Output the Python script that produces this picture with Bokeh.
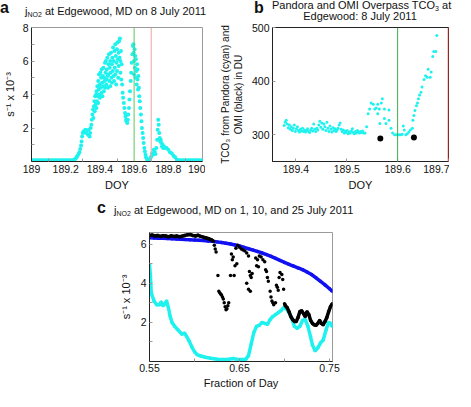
from bokeh.plotting import figure
from bokeh.layouts import column, row
from bokeh.models import Span, FixedTicker, Range1d, Spacer, Div
from bokeh.embed import file_html
from bokeh.resources import INLINE

FONT = "Liberation Sans"
CYAN = "#1FF2EE"
BLUE = "#1010F0"

# ---------------- Panel a: jNO2 on 8 July 2011 ----------------
a_doy = [189.00, 189.01, 189.02, 189.03, 189.04, 189.05, 189.06, 189.07, 189.08, 189.09,
         189.10, 189.11, 189.12, 189.13, 189.14, 189.15, 189.16, 189.17, 189.18, 189.19,
         189.20, 189.21, 189.22, 189.23, 189.24,
         189.25, 189.255, 189.26, 189.265, 189.27, 189.275, 189.28, 189.285, 189.29, 189.293,
         189.296, 189.30, 189.305, 189.31, 189.315, 189.32, 189.325, 189.33, 189.335, 189.34,
         189.343, 189.346, 189.35, 189.353, 189.356, 189.36, 189.362, 189.365, 189.368, 189.37,
         189.372, 189.375, 189.378,
         189.38, 189.38, 189.383, 189.385, 189.387, 189.39, 189.39, 189.393, 189.395, 189.397,
         189.40, 189.40, 189.403, 189.405, 189.407, 189.41, 189.41, 189.413, 189.415, 189.417,
         189.42, 189.42, 189.423, 189.425, 189.427, 189.43, 189.43,
         189.433, 189.435, 189.437, 189.44, 189.44, 189.443, 189.445, 189.447, 189.45, 189.45,
         189.453, 189.455, 189.457, 189.46, 189.46, 189.463, 189.465, 189.467, 189.47, 189.47,
         189.473, 189.475, 189.477, 189.48, 189.48, 189.483, 189.485, 189.487, 189.49, 189.49,
         189.493, 189.495, 189.497, 189.50, 189.50, 189.503, 189.505, 189.507, 189.51, 189.51,
         189.513, 189.515, 189.517, 189.52, 189.52, 189.523, 189.525, 189.527,
         189.53, 189.533, 189.536, 189.54, 189.543, 189.547, 189.55, 189.553, 189.556, 189.56,
         189.563, 189.566, 189.57, 189.573, 189.576, 189.58, 189.583, 189.586, 189.59, 189.593,
         189.596,
         189.598, 189.60, 189.60, 189.603, 189.605, 189.607, 189.61, 189.61, 189.613, 189.615,
         189.617, 189.62, 189.62, 189.623, 189.625,
         189.628, 189.63, 189.633, 189.636, 189.64, 189.643, 189.646, 189.65, 189.653, 189.656,
         189.66, 189.663, 189.667, 189.67, 189.675, 189.68, 189.685, 189.69, 189.695,
         189.70, 189.705, 189.71, 189.715, 189.72, 189.725, 189.73, 189.735, 189.738, 189.741,
         189.744, 189.747, 189.75, 189.753, 189.756, 189.76, 189.763, 189.767, 189.77, 189.775,
         189.78, 189.79, 189.80, 189.81, 189.82, 189.83, 189.84, 189.85,
         189.86, 189.87, 189.88, 189.89, 189.90, 189.91, 189.92, 189.93, 189.94, 189.95,
         189.96, 189.97, 189.98, 189.99, 190.00]
a_jno2 = [0.08, 0.08, 0.08, 0.08, 0.08, 0.08, 0.08, 0.08, 0.08, 0.08,
          0.08, 0.08, 0.08, 0.08, 0.08, 0.08, 0.08, 0.08, 0.08, 0.08,
          0.08, 0.08, 0.08, 0.08, 0.08,
          0.10, 0.15, 0.20, 0.28, 0.35, 0.45, 0.55, 0.75, 0.95, 1.2,
          1.5, 1.7, 1.8, 1.75, 1.9, 1.7, 1.85, 1.6, 1.9, 1.5,
          1.7, 2.0, 2.2, 2.5, 2.8, 3.1, 2.6, 3.3, 3.6, 3.0,
          3.9, 3.4, 4.0,
          3.2, 4.2, 3.6, 4.5, 3.9, 4.8, 3.5, 4.3, 5.2, 4.0,
          4.6, 3.8, 5.3, 4.4, 5.0, 4.1, 5.5, 4.7, 3.9, 5.1,
          4.5, 5.6, 4.2, 5.0, 4.8, 5.9, 4.4,
          5.3, 6.0, 4.6, 5.5, 4.9, 6.2, 5.1, 4.4, 5.8, 5.2,
          6.4, 4.8, 5.6, 6.0, 4.5, 5.3, 6.5, 5.0, 5.8, 4.7,
          6.2, 5.4, 6.8, 5.1, 6.0, 4.8, 6.6, 5.6, 7.0, 5.2,
          6.3, 4.6, 5.9, 6.7, 5.4, 7.1, 6.1, 5.0, 6.5, 5.7,
          7.2, 6.2, 7.35, 6.0, 5.3, 6.6, 4.9, 5.8,
          4.6, 4.1, 3.8, 3.5, 3.2, 2.9, 2.7, 2.5, 2.4, 2.3,
          2.5, 2.8, 3.2, 3.7, 4.2, 4.8, 5.3, 5.9, 6.4, 6.9,
          7.0,
          6.5, 6.0, 5.2, 6.7, 5.6, 6.3, 5.0, 6.1, 5.4, 4.6,
          5.8, 4.9, 5.5, 4.3, 5.1,
          4.4, 3.9, 3.6, 3.2, 2.8, 2.4, 2.0, 1.7, 1.4, 1.1,
          0.8, 0.6, 0.4, 0.25, 0.15, 0.08, 0.05, 0.1, 0.2,
          0.3, 0.5, 0.4, 0.7, 0.6, 0.45, 0.8, 1.3, 1.9, 2.5,
          2.2, 1.7, 1.4, 1.2, 1.3, 1.1, 0.9, 1.0, 0.8, 0.9,
          0.8, 0.8, 0.7, 0.55, 0.5, 0.35, 0.25, 0.1,
          0.08, 0.08, 0.08, 0.08, 0.08, 0.08, 0.08, 0.08, 0.08, 0.08,
          0.08, 0.08, 0.08, 0.08, 0.08]
omi_overpass_doy = 189.6
second_marker_doy = 189.7

# ---------------- Panel b: TCO3 ----------------
b_doy = [189.377, 189.379, 189.381, 189.383, 189.385, 189.387, 189.389, 189.391, 189.393, 189.395,
         189.397, 189.399, 189.401, 189.403, 189.405, 189.407, 189.409, 189.411, 189.413, 189.415,
         189.417, 189.419, 189.421, 189.423, 189.425, 189.427, 189.429, 189.431, 189.433, 189.435,
         189.437, 189.439, 189.441, 189.443, 189.445, 189.447, 189.449, 189.451, 189.453, 189.455,
         189.457, 189.459, 189.461, 189.463, 189.465, 189.467, 189.469, 189.471, 189.473, 189.475,
         189.477, 189.479, 189.481, 189.483, 189.485, 189.487, 189.489, 189.491, 189.493, 189.495,
         189.497, 189.499, 189.501, 189.503, 189.505, 189.507, 189.509, 189.511, 189.513, 189.515,
         189.517, 189.519, 189.521, 189.523, 189.525, 189.527, 189.529, 189.531, 189.533, 189.536,
         189.539,
         189.542, 189.545, 189.548, 189.552, 189.555, 189.558, 189.561, 189.561, 189.564, 189.565,
         189.568, 189.570, 189.574, 189.574, 189.577, 189.583, 189.583, 189.587, 189.590, 189.594,
         189.597, 189.600, 189.603, 189.606, 189.609, 189.611, 189.613, 189.616, 189.619, 189.622,
         189.625, 189.629, 189.630, 189.632, 189.634, 189.637, 189.639, 189.641, 189.643, 189.646,
         189.648, 189.652, 189.655, 189.658, 189.660, 189.664, 189.666, 189.669, 189.671, 189.675,
         189.677]
b_tco3 = [317, 323, 327, 320, 313, 318, 310, 315, 308, 312,
          318, 306, 311, 315, 308, 305, 310, 307, 312, 306,
          309, 305, 308, 311, 306, 304, 309, 312, 307, 320,
          310, 306, 312, 309, 318, 325, 314, 322, 310, 320,
          315, 308, 323, 312, 306, 316, 310, 305, 313, 308,
          311, 306, 309, 312, 318, 322, 310, 306, 309, 303,
          307, 304, 308, 302, 305, 303, 307, 311, 304, 302,
          306, 303, 308, 305, 303, 306, 304, 307, 303, 303,
          315,
          339, 348, 359, 357, 348, 350, 357, 339, 348, 321,
          359, 367, 348, 330, 321, 346, 327, 312, 303, 300,
          300, 300, 300, 300, 301, 316, 309, 300, 302, 305,
          309, 312, 327, 336, 345, 354, 359, 367, 374, 379,
          389, 403, 410, 407, 422, 407, 417, 446, 455, 455,
          485]
omi_doy = [189.566, 189.632]
omi_tco3 = [293, 295]

# ---------------- Panel c: jNO2 on 1, 10, 25 July 2011 ----------------
blue_frac = [0.550, 0.555, 0.560, 0.565, 0.570, 0.575, 0.580, 0.585, 0.590, 0.595, 0.600, 0.605,
             0.610, 0.615, 0.620, 0.625, 0.630, 0.635, 0.640, 0.645, 0.650, 0.655, 0.660, 0.665,
             0.670, 0.675, 0.680, 0.685, 0.690, 0.695, 0.700, 0.705, 0.710, 0.715, 0.720, 0.725,
             0.730, 0.735, 0.740, 0.745, 0.750, 0.753]
blue_jno2 = [6.33, 6.32, 6.31, 6.30, 6.29, 6.28, 6.27, 6.26, 6.24, 6.23, 6.21, 6.20,
             6.19, 6.17, 6.15, 6.12, 6.09, 6.05, 6.01, 5.96, 5.91, 5.84, 5.77, 5.70,
             5.63, 5.55, 5.47, 5.38, 5.28, 5.17, 5.07, 4.97, 4.88, 4.79, 4.70, 4.58,
             4.45, 4.28, 4.10, 3.92, 3.72, 3.60]
black_frac = [0.550, 0.553, 0.556, 0.559, 0.562, 0.565, 0.568, 0.571, 0.574, 0.577, 0.580, 0.583,
              0.586, 0.589, 0.592, 0.595, 0.598, 0.601, 0.604, 0.607, 0.610, 0.613, 0.616, 0.619,
              0.621,
              0.622, 0.623, 0.624, 0.626, 0.627, 0.628, 0.629, 0.630, 0.631, 0.632, 0.633, 0.634,
              0.635, 0.636, 0.637, 0.638, 0.640, 0.644, 0.641, 0.642, 0.643, 0.645, 0.647, 0.646,
              0.648, 0.650, 0.652, 0.654, 0.656, 0.658, 0.660, 0.661, 0.662, 0.663, 0.664, 0.658,
              0.660, 0.662, 0.668, 0.670, 0.672, 0.674, 0.676, 0.678, 0.669, 0.671, 0.679, 0.680,
              0.681, 0.682, 0.684, 0.685, 0.686, 0.687, 0.688, 0.690, 0.691, 0.692, 0.693, 0.694,
              0.695, 0.697, 0.698, 0.699,
              0.700, 0.701, 0.703, 0.705, 0.707, 0.709, 0.711, 0.713, 0.715, 0.717, 0.719, 0.721,
              0.723, 0.725, 0.727, 0.729, 0.731, 0.733, 0.735, 0.737, 0.739, 0.741, 0.743, 0.745,
              0.747, 0.749, 0.751, 0.753]
black_jno2 = [6.45, 6.47, 6.42, 6.45, 6.40, 6.44, 6.42, 6.38, 6.43, 6.40, 6.42, 6.38,
              6.41, 6.45, 6.48, 6.50, 6.45, 6.42, 6.46, 6.40, 6.36, 6.32, 6.28, 6.22,
              6.15,
              5.95, 5.75, 5.60, 4.40, 3.60, 3.52, 3.45, 3.40, 3.30, 3.20, 3.00, 2.80,
              2.65, 2.70, 2.85, 3.00, 4.40, 4.40, 5.50, 5.20, 5.35, 4.90, 5.00, 5.80,
              5.95, 5.85, 5.75, 5.70, 5.65, 5.55, 5.40, 4.60, 4.40, 4.30, 4.50, 4.00,
              3.70, 3.60, 5.30, 5.20, 5.40, 5.35, 5.20, 5.10, 4.90, 4.85, 4.70, 4.60,
              4.30, 4.10, 3.60, 3.30, 3.10, 3.00, 2.90, 3.00, 3.90, 3.80, 3.65, 4.30,
              4.55, 4.45, 4.20, 3.70,
              2.95, 2.85, 2.75, 2.55, 2.30, 2.15, 2.05, 2.05, 2.25, 2.55, 2.60, 2.45,
              2.30, 2.55, 2.40, 2.10, 1.95, 1.88, 1.85, 1.95, 2.10, 1.95, 1.88, 2.05,
              2.25, 2.55, 2.80, 2.95]
cyan_frac = [0.550, 0.551, 0.552, 0.555, 0.558, 0.561, 0.563, 0.565, 0.567, 0.569, 0.571, 0.573,
             0.575, 0.578, 0.582, 0.586, 0.589, 0.591, 0.594, 0.597, 0.600, 0.603, 0.607, 0.612,
             0.618, 0.625, 0.632, 0.638, 0.643, 0.648, 0.653, 0.657, 0.660, 0.663, 0.666, 0.669,
             0.672, 0.675, 0.678, 0.681, 0.684, 0.687, 0.690, 0.693, 0.696, 0.699, 0.702, 0.705,
             0.708, 0.711, 0.714, 0.717, 0.720, 0.723, 0.726, 0.729, 0.731, 0.734, 0.737, 0.740,
             0.743, 0.746, 0.749, 0.751, 0.753]
cyan_jno2 = [4.95, 4.40, 3.50, 3.10, 2.90, 2.90, 3.05, 2.85, 2.95, 3.10, 2.75, 2.30,
             2.00, 1.80, 1.60, 1.40, 1.45, 1.30, 1.05, 0.75, 0.50, 0.35, 0.28, 0.22,
             0.17, 0.12, 0.10, 0.12, 0.15, 0.10, 0.10, 0.12, 0.30, 0.90, 1.50, 1.80,
             1.85, 2.00, 1.95, 1.90, 2.15, 2.30, 2.40, 2.50, 2.60, 2.75, 2.70, 2.50,
             2.20, 1.80, 1.70, 1.80, 2.10, 2.15, 1.80, 1.25, 0.85, 0.55, 0.70, 0.95,
             1.10, 1.60, 2.00, 1.95, 1.80]

SUB_CSS = "font-size:7px;vertical-align:-2px;line-height:0"
TITLE_A = " at Edgewood, MD on 8 July 2011"
TITLE_B1 = f"Pandora and OMI Overpass TCO<sub style='{SUB_CSS}'>3</sub> at"
TITLE_B2 = "Edgewood: 8 July 2011"
TITLE_C = " at Edgewood, MD on 1, 10, and 25 July 2011"
YLAB_J = "s\u207b\u00b9 x 10\u207b\u00b3"
YLAB_B = "TCO\u2083 from Pandora (cyan) and\nOMI (black) in DU"

SPAN_CSS = "position:absolute;white-space:nowrap;font-family:'Liberation Sans';color:#111;"


def header(width, height, items):
    parts = []
    for left, top, size, bold, lh, html in items:
        weight = "bold" if bold else "normal"
        parts.append(f"<div style=\"{SPAN_CSS}left:{left}px;top:{top}px;font-size:{size}px;"
                     f"font-weight:{weight};line-height:{lh}px\">{html}</div>")
    return Div(text="<div style='position:relative;width:%dpx;height:%dpx'>%s</div>"
               % (width, height, "".join(parts)),
               width=width, height=height, margin=0,
               styles={"overflow": "visible"})


def style(p, outline="#9a9a9a"):
    p.outline_line_color = outline
    p.outline_line_width = 1
    p.grid.visible = False
    p.background_fill_color = "white"
    p.border_fill_color = "white"
    for ax in p.axis:
        ax.axis_line_color = "#222222"
        ax.major_tick_line_color = "#9a9a9a"
        ax.minor_tick_line_color = "#9a9a9a"
        ax.major_tick_in = 3
        ax.major_tick_out = 0
        ax.minor_tick_in = 3
        ax.minor_tick_out = 0
        ax.major_label_text_font = FONT
        ax.major_label_text_font_size = "10.5px"
        ax.major_label_text_color = "#111111"
        ax.major_label_standoff = 3
        ax.axis_label_text_font = FONT
        ax.axis_label_text_font_size = "11px"
        ax.axis_label_text_font_style = "normal"
        ax.axis_label_text_color = "#111111"


SUB = f"<sub style='{SUB_CSS}'>NO2</sub>"

# ---- figure a ----
head_a = header(205, 22, [(0, 0, 16, True, 16, "a"),
                          (25, 5, 11, False, 13, "j" + SUB + TITLE_A)])
pa = figure(width=205, height=172, output_backend="svg", toolbar_location=None,
            x_range=Range1d(189.0, 190.0), y_range=Range1d(0, 8),
            min_border_left=25, min_border_right=3, min_border_top=5, min_border_bottom=33)
pa.scatter(a_doy, a_jno2, size=4, color=CYAN, line_color=None)
pa.add_layout(Span(location=omi_overpass_doy, dimension="height", line_color="#5cc85c", line_width=1))
pa.add_layout(Span(location=second_marker_doy, dimension="height", line_color="#f2a0a0", line_width=1))
style(pa)
pa.xaxis.ticker = FixedTicker(ticks=[189.0, 189.2, 189.4, 189.6, 189.8, 190.0],
                              minor_ticks=[189.1, 189.3, 189.5, 189.7, 189.9])
pa.xaxis.major_tick_in = 0
pa.xaxis.major_label_overrides = {189: "189", 190: "190"}
pa.yaxis.ticker = FixedTicker(ticks=[2, 4, 6, 8], minor_ticks=[1, 3, 5, 7])
pa.xaxis.axis_label = "DOY"
pa.yaxis.axis_label = YLAB_J
pa.yaxis.axis_label_standoff = 4
pa.xaxis.axis_label_standoff = 3

# ---- figure b ----
head_b = header(244, 22, [(49, 0, 16, True, 16, "b"),
                          (67, 0, 11, False, 11,
                           "<div style='width:176px;text-align:center;line-height:11px'>"
                           + TITLE_B1 + "<br>" + TITLE_B2 + "</div>")])
pb = figure(width=244, height=172, output_backend="svg", toolbar_location=None,
            x_range=Range1d(189.354, 189.7), y_range=Range1d(250, 500),
            min_border_left=67, min_border_right=1, min_border_top=5, min_border_bottom=33)
pb.scatter(b_doy, b_tco3, size=3, color=CYAN, line_color=None)
pb.scatter(omi_doy, omi_tco3, size=6, color="black", line_color=None)
pb.add_layout(Span(location=omi_overpass_doy, dimension="height", line_color="#3cb04c", line_width=1))
pb.add_layout(Span(location=second_marker_doy, dimension="height", line_color="#e83030", line_width=1.5))
style(pb, outline="#222222")
pb.xaxis.ticker = FixedTicker(ticks=[189.4, 189.5, 189.6, 189.7])
pb.yaxis.ticker = FixedTicker(ticks=[300, 400, 500])
pb.xaxis.axis_label = "DOY"
pb.yaxis.axis_label = YLAB_B
pb.yaxis.axis_label_text_font_size = "10px"
pb.yaxis.axis_label_standoff = 5
pb.xaxis.axis_label_standoff = 3

# ---- figure c ----
head_c = header(248, 24, [(5, 6, 16, True, 16, "c"),
                          (22, 10, 11, False, 13, "j" + SUB + TITLE_C)])
pc = figure(width=248, height=173, output_backend="svg", toolbar_location=None,
            x_range=Range1d(0.55, 0.7533), y_range=Range1d(0, 6.6),
            min_border_left=57, min_border_right=8, min_border_top=14, min_border_bottom=28)
pc.line(blue_frac, blue_jno2, line_width=3.5, color=BLUE)
pc.scatter(blue_frac, blue_jno2, size=3.5, color=BLUE, line_color=None)
pc.line(cyan_frac, cyan_jno2, line_width=3.5, color=CYAN)
pc.scatter(cyan_frac, cyan_jno2, size=3.5, color=CYAN, line_color=None)
n_up, n_low = 25, 89
pc.line(black_frac[:n_up], black_jno2[:n_up], line_width=3.5, color="black")
pc.line(black_frac[n_low:], black_jno2[n_low:], line_width=3.5, color="black")
pc.scatter(black_frac, black_jno2, size=3.5, color="black", line_color=None)
style(pc)
pc.xaxis.ticker = FixedTicker(ticks=[0.55, 0.65, 0.75], minor_ticks=[0.6, 0.7])
pc.yaxis.ticker = FixedTicker(ticks=[2, 4, 6], minor_ticks=[1, 3, 5])
pc.xaxis.axis_label = "Fraction of Day"
pc.yaxis.axis_label = YLAB_J
pc.yaxis.axis_label_standoff = 6
pc.xaxis.axis_label_standoff = 2
pc.xaxis.major_label_standoff = 2

layout = column(row(column(head_a, pa, spacing=0), column(head_b, pb, spacing=0), spacing=0),
                row(Spacer(width=92, height=197), column(head_c, pc, spacing=0), spacing=0),
                spacing=0)
open("out.html", "w").write(file_html(layout, INLINE))
